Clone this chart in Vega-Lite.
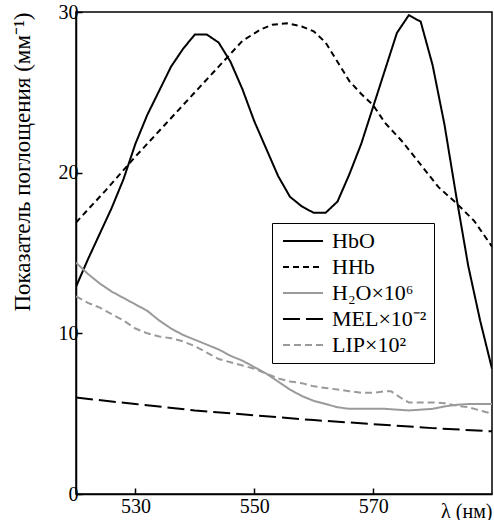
{
  "$schema": "https://vega.github.io/schema/vega-lite/v6.json",
  "width": 416,
  "height": 482,
  "autosize": "none",
  "padding": {"left": 76, "top": 12, "right": 2, "bottom": 26},
  "background": "white",
  "config": {
    "font": "Liberation Serif",
    "view": {"stroke": "black", "strokeWidth": 1.5},
    "axis": {
      "grid": false,
      "domainColor": "black",
      "domainWidth": 1.5,
      "tickColor": "black",
      "tickWidth": 1.5,
      "tickSize": -6,
      "labelColor": "black",
      "labelFont": "Liberation Serif",
      "labelFontSize": 20,
      "titleFont": "Liberation Serif",
      "titleFontSize": 20,
      "titleFontWeight": "normal",
      "titleColor": "black"
    }
  },
  "data": {
    "values": [
      {"s": "HbO", "x": 520, "y": 12.9}, {"s": "HbO", "x": 522, "y": 14.6}, {"s": "HbO", "x": 524, "y": 16.2},
      {"s": "HbO", "x": 526, "y": 17.8}, {"s": "HbO", "x": 528, "y": 19.6}, {"s": "HbO", "x": 530, "y": 21.8},
      {"s": "HbO", "x": 532, "y": 23.6}, {"s": "HbO", "x": 534, "y": 25.1}, {"s": "HbO", "x": 536, "y": 26.6},
      {"s": "HbO", "x": 538, "y": 27.7}, {"s": "HbO", "x": 540, "y": 28.6}, {"s": "HbO", "x": 542, "y": 28.6},
      {"s": "HbO", "x": 544, "y": 28.1}, {"s": "HbO", "x": 546, "y": 26.9}, {"s": "HbO", "x": 548, "y": 25.2},
      {"s": "HbO", "x": 550, "y": 23.2}, {"s": "HbO", "x": 552, "y": 21.5}, {"s": "HbO", "x": 554, "y": 19.8},
      {"s": "HbO", "x": 556, "y": 18.5}, {"s": "HbO", "x": 558, "y": 17.9}, {"s": "HbO", "x": 560, "y": 17.5},
      {"s": "HbO", "x": 562, "y": 17.5}, {"s": "HbO", "x": 564, "y": 18.2}, {"s": "HbO", "x": 566, "y": 19.9},
      {"s": "HbO", "x": 568, "y": 21.8}, {"s": "HbO", "x": 570, "y": 24.1}, {"s": "HbO", "x": 572, "y": 26.4},
      {"s": "HbO", "x": 574, "y": 28.7}, {"s": "HbO", "x": 576, "y": 29.8}, {"s": "HbO", "x": 578, "y": 29.4},
      {"s": "HbO", "x": 580, "y": 26.7}, {"s": "HbO", "x": 582, "y": 23.0}, {"s": "HbO", "x": 584, "y": 18.5},
      {"s": "HbO", "x": 586, "y": 14.2}, {"s": "HbO", "x": 588, "y": 10.8}, {"s": "HbO", "x": 590, "y": 7.8},

      {"s": "HHb", "x": 520, "y": 16.9}, {"s": "HHb", "x": 525, "y": 18.9}, {"s": "HHb", "x": 530, "y": 21.0},
      {"s": "HHb", "x": 535, "y": 23.0}, {"s": "HHb", "x": 540, "y": 25.0}, {"s": "HHb", "x": 545, "y": 27.0},
      {"s": "HHb", "x": 548, "y": 28.2}, {"s": "HHb", "x": 551, "y": 28.9}, {"s": "HHb", "x": 553, "y": 29.2},
      {"s": "HHb", "x": 555.5, "y": 29.3}, {"s": "HHb", "x": 558, "y": 29.1}, {"s": "HHb", "x": 560, "y": 28.8},
      {"s": "HHb", "x": 562, "y": 28.1}, {"s": "HHb", "x": 564, "y": 26.9}, {"s": "HHb", "x": 566, "y": 25.7},
      {"s": "HHb", "x": 568, "y": 24.9}, {"s": "HHb", "x": 570, "y": 24.2}, {"s": "HHb", "x": 572, "y": 23.1},
      {"s": "HHb", "x": 575, "y": 21.9}, {"s": "HHb", "x": 578, "y": 20.5}, {"s": "HHb", "x": 581, "y": 19.1},
      {"s": "HHb", "x": 584, "y": 18.1}, {"s": "HHb", "x": 587, "y": 17.0}, {"s": "HHb", "x": 590, "y": 15.4},

      {"s": "H₂O×10⁶", "x": 520, "y": 14.4}, {"s": "H₂O×10⁶", "x": 522, "y": 13.7}, {"s": "H₂O×10⁶", "x": 524, "y": 13.1},
      {"s": "H₂O×10⁶", "x": 526, "y": 12.6}, {"s": "H₂O×10⁶", "x": 528, "y": 12.2}, {"s": "H₂O×10⁶", "x": 530, "y": 11.8},
      {"s": "H₂O×10⁶", "x": 532, "y": 11.4}, {"s": "H₂O×10⁶", "x": 534, "y": 10.8}, {"s": "H₂O×10⁶", "x": 536, "y": 10.3},
      {"s": "H₂O×10⁶", "x": 538, "y": 9.9}, {"s": "H₂O×10⁶", "x": 540, "y": 9.6}, {"s": "H₂O×10⁶", "x": 542, "y": 9.3},
      {"s": "H₂O×10⁶", "x": 544, "y": 9.0}, {"s": "H₂O×10⁶", "x": 546, "y": 8.6}, {"s": "H₂O×10⁶", "x": 548, "y": 8.3},
      {"s": "H₂O×10⁶", "x": 550, "y": 7.9}, {"s": "H₂O×10⁶", "x": 552, "y": 7.5}, {"s": "H₂O×10⁶", "x": 554, "y": 7.0},
      {"s": "H₂O×10⁶", "x": 556, "y": 6.5}, {"s": "H₂O×10⁶", "x": 558, "y": 6.1}, {"s": "H₂O×10⁶", "x": 560, "y": 5.8},
      {"s": "H₂O×10⁶", "x": 562, "y": 5.6}, {"s": "H₂O×10⁶", "x": 564, "y": 5.4}, {"s": "H₂O×10⁶", "x": 566, "y": 5.3},
      {"s": "H₂O×10⁶", "x": 568, "y": 5.3}, {"s": "H₂O×10⁶", "x": 570, "y": 5.3}, {"s": "H₂O×10⁶", "x": 572, "y": 5.3},
      {"s": "H₂O×10⁶", "x": 574, "y": 5.25}, {"s": "H₂O×10⁶", "x": 576, "y": 5.2}, {"s": "H₂O×10⁶", "x": 578, "y": 5.25},
      {"s": "H₂O×10⁶", "x": 580, "y": 5.3}, {"s": "H₂O×10⁶", "x": 582, "y": 5.45}, {"s": "H₂O×10⁶", "x": 584, "y": 5.55},
      {"s": "H₂O×10⁶", "x": 586, "y": 5.6}, {"s": "H₂O×10⁶", "x": 588, "y": 5.6}, {"s": "H₂O×10⁶", "x": 590, "y": 5.6},

      {"s": "MEL×10⁻²", "x": 520, "y": 6.0}, {"s": "MEL×10⁻²", "x": 530, "y": 5.6}, {"s": "MEL×10⁻²", "x": 540, "y": 5.2},
      {"s": "MEL×10⁻²", "x": 550, "y": 4.9}, {"s": "MEL×10⁻²", "x": 560, "y": 4.6}, {"s": "MEL×10⁻²", "x": 570, "y": 4.35},
      {"s": "MEL×10⁻²", "x": 580, "y": 4.1}, {"s": "MEL×10⁻²", "x": 590, "y": 3.9},

      {"s": "LIP×10²", "x": 520, "y": 12.3}, {"s": "LIP×10²", "x": 522, "y": 11.9}, {"s": "LIP×10²", "x": 524, "y": 11.6},
      {"s": "LIP×10²", "x": 526, "y": 11.2}, {"s": "LIP×10²", "x": 528, "y": 10.8}, {"s": "LIP×10²", "x": 530, "y": 10.3},
      {"s": "LIP×10²", "x": 532, "y": 10.0}, {"s": "LIP×10²", "x": 534, "y": 9.8}, {"s": "LIP×10²", "x": 536, "y": 9.7},
      {"s": "LIP×10²", "x": 538, "y": 9.5}, {"s": "LIP×10²", "x": 540, "y": 9.2}, {"s": "LIP×10²", "x": 542, "y": 8.8},
      {"s": "LIP×10²", "x": 544, "y": 8.4}, {"s": "LIP×10²", "x": 546, "y": 8.2}, {"s": "LIP×10²", "x": 548, "y": 8.0},
      {"s": "LIP×10²", "x": 550, "y": 7.8}, {"s": "LIP×10²", "x": 552, "y": 7.5}, {"s": "LIP×10²", "x": 554, "y": 7.2},
      {"s": "LIP×10²", "x": 556, "y": 7.0}, {"s": "LIP×10²", "x": 558, "y": 6.9}, {"s": "LIP×10²", "x": 560, "y": 6.7},
      {"s": "LIP×10²", "x": 562, "y": 6.6}, {"s": "LIP×10²", "x": 564, "y": 6.5}, {"s": "LIP×10²", "x": 566, "y": 6.4},
      {"s": "LIP×10²", "x": 568, "y": 6.3}, {"s": "LIP×10²", "x": 570, "y": 6.3}, {"s": "LIP×10²", "x": 572, "y": 6.4},
      {"s": "LIP×10²", "x": 573, "y": 6.4}, {"s": "LIP×10²", "x": 575, "y": 5.9}, {"s": "LIP×10²", "x": 576, "y": 5.7},
      {"s": "LIP×10²", "x": 578, "y": 5.7}, {"s": "LIP×10²", "x": 580, "y": 5.7}, {"s": "LIP×10²", "x": 582, "y": 5.65},
      {"s": "LIP×10²", "x": 584, "y": 5.5}, {"s": "LIP×10²", "x": 586, "y": 5.4}, {"s": "LIP×10²", "x": 588, "y": 5.2},
      {"s": "LIP×10²", "x": 590, "y": 5.0}
    ]
  },
  "mark": {"type": "line", "strokeWidth": 2, "clip": true},
  "encoding": {
    "x": {
      "field": "x", "type": "quantitative",
      "scale": {"domain": [520, 590], "nice": false, "zero": false},
      "axis": {
        "values": [530, 550, 570],
        "title": "λ (нм)",
        "titleAnchor": "end",
        "titleAlign": "right",
        "titleX": 416,
        "titleY": 23,
        "titleBaseline": "alphabetic",
        "labelPadding": 8
      }
    },
    "y": {
      "field": "y", "type": "quantitative",
      "scale": {"domain": [0, 30], "nice": false},
      "axis": {
        "values": [0, 10, 20, 30],
        "title": "Показатель поглощения (мм⁻¹)",
        "titleFontSize": 23,
        "titleAnchor": "end",
        "titleAngle": -90,
        "titleAlign": "right",
        "titleX": -47,
        "titleY": 0,
        "titleBaseline": "alphabetic",
        "labelPadding": 4
      }
    },
    "color": {
      "field": "s", "type": "nominal",
      "scale": {
        "domain": ["HbO", "HHb", "H₂O×10⁶", "MEL×10⁻²", "LIP×10²"],
        "range": ["black", "black", "#9a9a9a", "black", "#9a9a9a"]
      },
      "legend": {
        "title": null,
        "orient": "none",
        "legendX": 196,
        "legendY": 211,
        "symbolType": "M-0.7,0H3.3",
        "symbolSize": 400,
        "symbolStrokeWidth": 2,
        "labelFont": "Liberation Serif",
        "labelFontSize": 22,
        "labelColor": "black",
        "labelOffset": 31,
        "rowPadding": 4,
        "padding": 7,
        "strokeColor": "black",
        "fillColor": "white",
        "labelLimit": 300
      }
    },
    "strokeDash": {
      "field": "s", "type": "nominal",
      "scale": {
        "domain": ["HbO", "HHb", "H₂O×10⁶", "MEL×10⁻²", "LIP×10²"],
        "range": [[1, 0], [6, 4], [1, 0], [17, 6], [7, 4]]
      },
      "legend": null
    }
  }
}
